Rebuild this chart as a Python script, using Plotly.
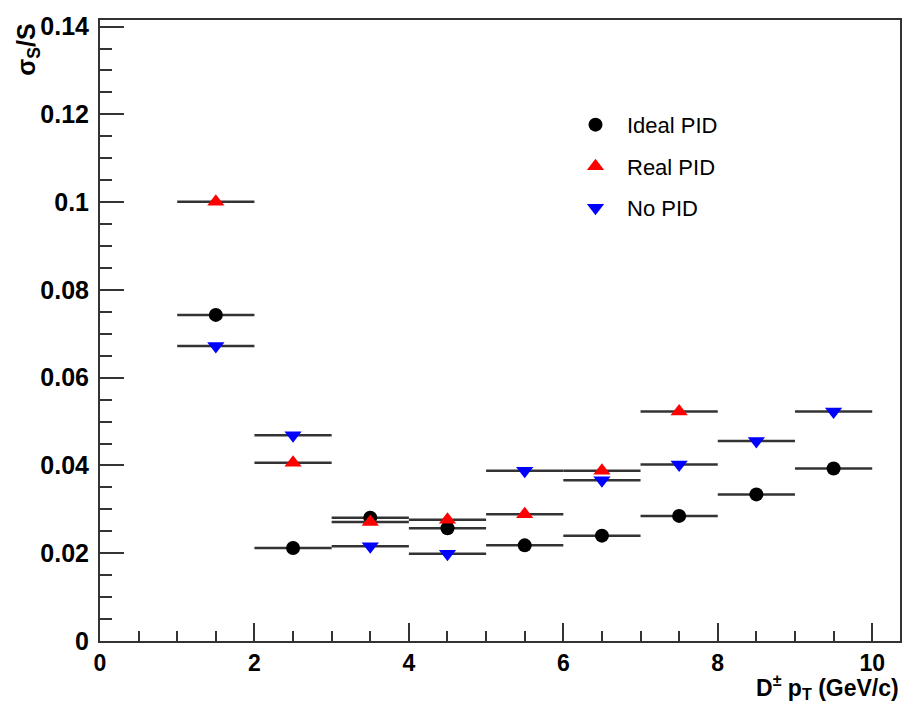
import plotly.graph_objects as go

# ---- data ----
pt_centers = [1.5, 2.5, 3.5, 4.5, 5.5, 6.5, 7.5, 8.5, 9.5]
bin_half_width = [0.5, 0.5, 0.5, 0.5, 0.5, 0.5, 0.5, 0.5, 0.5]

ideal_pid = [0.0743, 0.0212, 0.0281, 0.0257, 0.0218, 0.0240, 0.0285, 0.0334, 0.0393]

real_pid_x = [1.5, 2.5, 3.5, 4.5, 5.5, 6.5, 7.5]
real_pid = [0.1001, 0.0406, 0.0271, 0.0276, 0.0289, 0.0388, 0.0523]
real_half_width = [0.5, 0.5, 0.5, 0.5, 0.5, 0.5, 0.5]

no_pid = [0.0672, 0.0469, 0.0216, 0.0199, 0.0388, 0.0366, 0.0402, 0.0456, 0.0523]

y_tickvals = [0, 0.02, 0.04, 0.06, 0.08, 0.1, 0.12, 0.14]
y_ticktext = ["0", "0.02", "0.04", "0.06", "0.08", "0.1", "0.12", "0.14"]
x_tickvals = [0, 2, 4, 6, 8, 10]
x_ticktext = ["0", "2", "4", "6", "8", "10"]

FONT = "Liberation Sans, Arial, sans-serif"
BAR_COLOR = "#333333"

fig = go.Figure()

def add_series(x, y, ex, name, symbol, size, color, group):
    fig.add_trace(go.Scatter(
        x=x, y=y, mode="markers", name=name, legendgroup=group,
        marker=dict(symbol=symbol, size=size, color=color, line=dict(width=0)),
        error_x=dict(type="data", array=ex, symmetric=True, width=0,
                     thickness=2.5, color=BAR_COLOR),
    ))

add_series(pt_centers, ideal_pid, bin_half_width, "Ideal PID", "circle", 14, "#000000", "a")
add_series(real_pid_x, real_pid, real_half_width, "Real PID", "triangle-up", 15, "#ff0000", "b")
add_series(pt_centers, no_pid, bin_half_width, "No PID", "triangle-down", 15, "#0000ff", "c")

fig.update_layout(
    width=914, height=706,
    margin=dict(l=100, r=12, t=13, b=65),
    paper_bgcolor="white", plot_bgcolor="white",
    font=dict(family=FONT, color="black"),
    showlegend=True,
    legend=dict(
        x=0.58, y=0.865, xanchor="left", yanchor="top",
        bgcolor="rgba(0,0,0,0)", borderwidth=0,
        font=dict(family=FONT, size=22, color="black"),
        tracegroupgap=10, itemwidth=53,
    ),
    xaxis=dict(
        range=[0, 10.36], showgrid=False, zeroline=False,
        showline=True, linewidth=2, linecolor=BAR_COLOR, mirror=True,
        ticks="inside", ticklen=18, tickwidth=2, tickcolor=BAR_COLOR,
        tickvals=x_tickvals, ticktext=x_ticktext,
        tickfont=dict(family=FONT, size=23, color="black", weight="bold"),
        ticklabelstandoff=0,
        minor=dict(dtick=0.5, ticks="inside", ticklen=10, tickwidth=2, tickcolor=BAR_COLOR, showgrid=False),
    ),
    yaxis=dict(
        range=[0, 0.1415], showgrid=False, zeroline=False,
        showline=True, linewidth=2, linecolor=BAR_COLOR, mirror=True,
        ticks="inside", ticklen=24, tickwidth=2, tickcolor=BAR_COLOR,
        tickvals=y_tickvals, ticktext=y_ticktext,
        tickfont=dict(family=FONT, size=25, color="black", weight="bold"),
        ticklabelstandoff=4,
        minor=dict(dtick=0.005, ticks="inside", ticklen=12, tickwidth=2, tickcolor=BAR_COLOR, showgrid=False),
    ),
)

fig.add_annotation(
    text="<b>D<sup>±</sup> p<sub>T</sub> (GeV/c)</b>",
    xref="paper", yref="paper", x=1.0, y=-0.101, xanchor="right", yanchor="bottom",
    showarrow=False, borderpad=0, font=dict(family=FONT, size=23, color="black"),
)
fig.add_annotation(
    text="<b>σ<sub>S</sub>/S</b>",
    xref="paper", yref="paper", x=-0.09, y=0.997, xanchor="center", yanchor="top",
    textangle=-90, showarrow=False, font=dict(family=FONT, size=25, color="black"),
)

fig.write_html("out.html")
